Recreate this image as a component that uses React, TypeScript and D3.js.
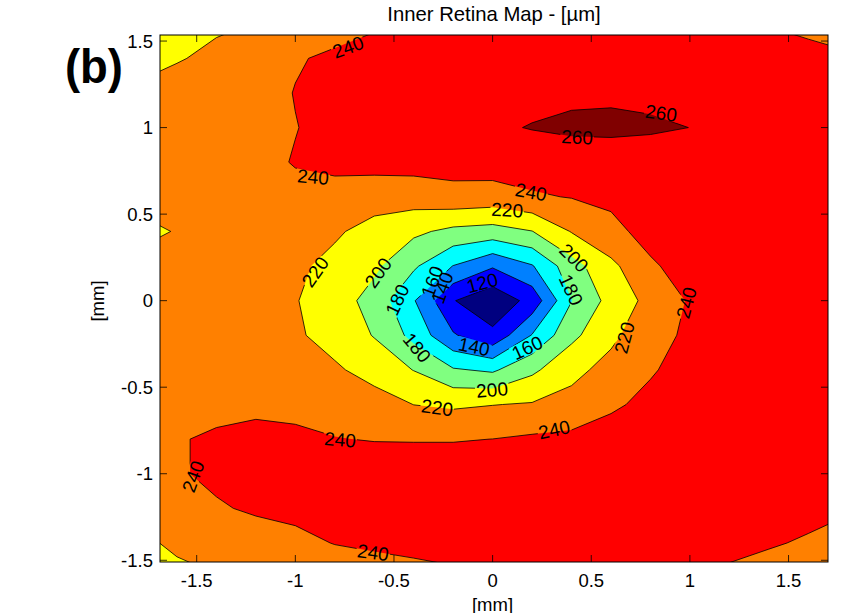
import * as d3 from "d3";

// plot box (px) and data window (mm)
const plotLeft = 160;
const plotRight = 828;
const plotTop = 35;
const plotBottom = 562;
const xDomain = [-1.686, 1.7];
const yDomain = [-1.51, 1.535];
const tickValues = [-1.5, -1, -0.5, 0, 0.5, 1, 1.5];

// contour levels [µm] and jet colours of the bands between them
const levels = [120, 140, 160, 180, 200, 220, 240, 260];
const bandColors = ["#000080", "#0000ff", "#0080ff", "#00ffff", "#80ff80", "#ffff00", "#ff8000", "#ff0000", "#800000"];

// thickness grid: columns x = -1.8 .. 1.8 mm, rows y = 1.6 .. -1.6 mm, 0.2 mm apart
const gridX0 = -1.8;
const gridY0 = 1.6;
const gridStep = 0.2;
const thickness = [
  [212, 215, 218, 220.3, 226, 233, 238, 243, 245, 246, 247, 248, 248, 247, 246, 244, 239.5, 236, 233],
  [214, 219, 223, 230, 238.5, 243, 246, 248, 249, 250, 251, 252, 252, 251, 250, 248, 246, 245, 242],
  [223, 226, 229, 233, 240.6, 244, 247, 250, 252, 253, 255, 257, 257, 256, 254, 252, 250, 248, 246],
  [226, 228, 231, 234, 239.5, 245, 248, 250, 252, 257.5, 260.8, 263, 264, 262.5, 259.9, 254, 251, 249, 247],
  [228, 230, 232, 235, 241, 244, 246, 247, 247, 249, 249, 251, 250, 250, 250, 249, 248, 248, 247],
  [228, 229, 231, 233, 235, 234, 230, 229.5, 234, 232, 238, 240.8, 243, 245, 246, 247, 247, 247, 246],
  [212, 221.5, 228, 232, 232, 223, 212, 204, 195, 192, 199.5, 221, 236, 245, 248, 249, 249, 249, 248],
  [228, 229, 230, 228, 224, 214, 204, 183, 159.5, 142, 158.5, 192, 215, 238, 246, 249, 249, 249, 248],
  [228, 229, 229, 226, 221, 210, 192, 161.5, 121, 105, 127, 179.5, 207, 226, 242, 247, 249, 249, 248],
  [228, 229, 228, 226, 223, 212, 199, 174, 142, 125, 161, 195, 216, 232, 244, 248, 249, 249, 248],
  [228, 229, 229, 228, 226, 223, 212, 199.5, 182, 177, 196, 215, 226, 238.5, 246, 249, 249, 249, 248],
  [232, 234, 236, 237, 236, 234, 229, 219.8, 217, 219.5, 221.5, 226, 237.5, 244, 248, 249, 249, 249, 248],
  [236, 239, 242, 244, 243, 240.5, 239.3, 239, 239, 240.1, 243, 245, 247, 249, 250, 250, 250, 249, 248],
  [236, 238.5, 243, 246, 248, 249, 249, 250, 250, 251, 252, 252, 252, 252, 252, 251, 250, 248, 245],
  [234, 236, 238.5, 242, 243, 244, 245, 246, 247, 248, 249, 250, 250, 250, 249, 248, 246, 244, 241],
  [215, 224, 229, 233, 237, 240.4, 242, 243.5, 245, 246, 247, 247, 247, 246, 245, 244, 241.3, 238.5, 236],
  [212, 214, 219, 224, 229, 232, 234, 235.5, 237.3, 239, 241, 242, 242, 241, 240.2, 237, 234, 232, 230],
];

// inline contour labels: [level, x mm, y mm, angle deg]
const contourLabels = [
  [240, -0.733, 1.466, -20],
  [240, -0.91, 0.716, 5],
  [260, 0.854, 1.085, 8],
  [260, 0.428, 0.946, 3],
  [240, 0.195, 0.629, 10],
  [220, 0.074, 0.525, 3],
  [200, 0.413, 0.248, 45],
  [180, 0.398, 0.063, 65],
  [120, -0.053, 0.104, -15],
  [140, -0.094, -0.265, 12],
  [160, 0.175, -0.271, -25],
  [240, 0.981, -0.012, -75],
  [220, 0.667, -0.214, -75],
  [200, -0.003, -0.514, -5],
  [220, -0.9, 0.167, -55],
  [200, -0.581, 0.162, -55],
  [180, -0.484, 0.006, -65],
  [180, -0.383, -0.271, 50],
  [160, -0.307, 0.11, -70],
  [140, -0.256, 0.075, -70],
  [220, -0.281, -0.617, 8],
  [240, -0.773, -0.802, 5],
  [240, -1.519, -1.016, -70],
  [240, -0.606, -1.454, 8],
  [240, 0.312, -0.744, -12],
];

const font = "'Liberation Sans', Arial, Helvetica, sans-serif";
const tickFont = 18.5;
const labelFont = 19;

export default function App() {
  const x = d3.scaleLinear().domain(xDomain).range([plotLeft, plotRight]);
  const y = d3.scaleLinear().domain(yDomain).range([plotBottom, plotTop]);

  const nx = thickness[0].length;
  const ny = thickness.length;
  const contours = d3.contours().size([nx, ny]).thresholds([0, ...levels])(thickness.flat());

  // grid value (i, j) sits at contour coords (i + 0.5, j + 0.5)
  const toPlot = d3.geoTransform({
    point(px, py) {
      this.stream.point(x(gridX0 + (px - 0.5) * gridStep), y(gridY0 - (py - 0.5) * gridStep));
    },
  });
  const path = d3.geoPath(toPlot);

  const labelBox = (v) => [String(v).length * 0.556 * labelFont + 2, labelFont * 0.78];

  return (
    <svg width={848} height={613} style={{ position: "absolute", left: 0, top: 0, background: "#fff" }} fontFamily={font}>
      <defs>
        <clipPath id="plot-clip">
          <rect x={plotLeft} y={plotTop} width={plotRight - plotLeft} height={plotBottom - plotTop} />
        </clipPath>
        <mask id="label-mask" maskUnits="userSpaceOnUse" x={0} y={0} width={848} height={613}>
          <rect x={0} y={0} width={848} height={613} fill="white" />
          {contourLabels.map(([v, lx, ly, a], i) => {
            const [w, h] = labelBox(v);
            return (
              <rect key={i} x={-w / 2} y={-h / 2} width={w} height={h} fill="black"
                transform={`translate(${x(lx)},${y(ly)}) rotate(${a})`} />
            );
          })}
        </mask>
      </defs>

      <g clipPath="url(#plot-clip)">
        {contours.map((c, k) => (
          <path key={k} d={path(c)} fill={bandColors[k]} />
        ))}
        <g mask="url(#label-mask)">
          {contours.slice(1).map((c, k) => (
            <path key={k} d={path(c)} fill="none" stroke="#000" strokeWidth={0.8} strokeLinejoin="round" />
          ))}
        </g>
        {contourLabels.map(([v, lx, ly, a], i) => (
          <text key={i} x={0} y={0} dy="0.36em" textAnchor="middle" fontSize={labelFont} fill="#000"
            transform={`translate(${x(lx)},${y(ly)}) rotate(${a})`}>
            {v}
          </text>
        ))}
      </g>

      {/* box and inward ticks on all four sides */}
      <rect x={plotLeft} y={plotTop} width={plotRight - plotLeft} height={plotBottom - plotTop} fill="none" stroke="#000" strokeWidth={1} />
      {tickValues.map((t) => (
        <g key={"x" + t} stroke="#000" strokeWidth={0.8}>
          <line x1={x(t)} x2={x(t)} y1={plotBottom} y2={plotBottom - 7} />
          <line x1={x(t)} x2={x(t)} y1={plotTop} y2={plotTop + 7} />
        </g>
      ))}
      {tickValues.map((t) => (
        <g key={"y" + t} stroke="#000" strokeWidth={0.8}>
          <line x1={plotLeft} x2={plotLeft + 7} y1={y(t)} y2={y(t)} />
          <line x1={plotRight} x2={plotRight - 7} y1={y(t)} y2={y(t)} />
        </g>
      ))}
      {tickValues.map((t) => (
        <text key={"xl" + t} x={x(t)} y={587} textAnchor="middle" fontSize={tickFont} fill="#000">
          {String(t)}
        </text>
      ))}
      {tickValues.map((t) => (
        <text key={"yl" + t} x={153} y={y(t)} dy="0.35em" textAnchor="end" fontSize={tickFont} fill="#000">
          {String(t)}
        </text>
      ))}

      <text x={(plotLeft + plotRight) / 2} y={21} textAnchor="middle" fontSize={20.3} fill="#000">
        Inner Retina Map - [µm]
      </text>
      <text x={492.5} y={611} textAnchor="middle" fontSize={tickFont} fill="#000">[mm]</text>
      <text transform="translate(104,301) rotate(-90)" textAnchor="middle" fontSize={tickFont} fill="#000">[mm]</text>
      <text x={65} y={83} fontSize={48} fontWeight="bold" fill="#000" textLength={58} lengthAdjust="spacingAndGlyphs">(b)</text>
    </svg>
  );
}
